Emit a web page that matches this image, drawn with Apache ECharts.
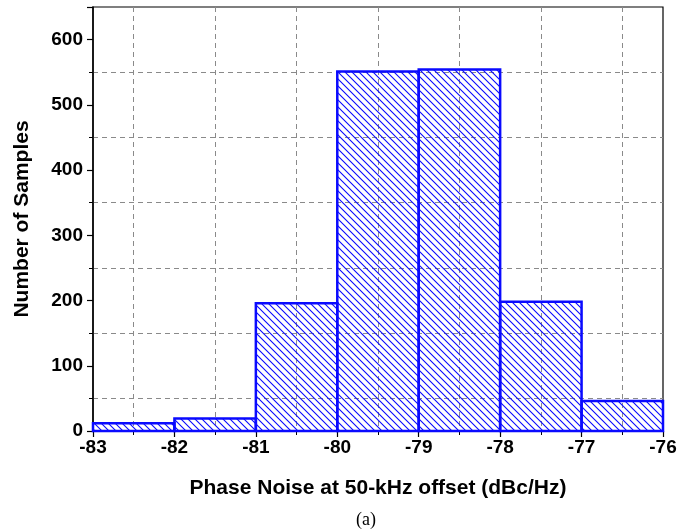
<!DOCTYPE html>
<html>
<head>
<meta charset="utf-8">
<script src="https://cdn.jsdelivr.net/npm/echarts@6/dist/echarts.min.js"></script>
<style>html,body{margin:0;padding:0;background:#fff}#c{width:693px;height:531px}</style>
</head>
<body>
<div id="c"></div>
<script>
// Data
const binStarts = [-83, -82, -81, -80, -79, -78, -77];
const binEnds   = [-82, -81, -80, -79, -78, -77, -76];
const counts    = [12, 19, 196, 551, 554, 198, 46];
const xTicks = [-83, -82, -81, -80, -79, -78, -77, -76];
const yTicks = [0, 100, 200, 300, 400, 500, 600];

const blue = '#0a0aff';
// hatch pattern
const T = 7;
const tile = document.createElement('canvas');
tile.width = T; tile.height = T;
const g = tile.getContext('2d');
g.strokeStyle = blue; g.lineWidth = 1.1;
g.beginPath();
g.moveTo(-1, -1); g.lineTo(T + 1, T + 1);
g.moveTo(T - 1, -1); g.lineTo(T + 1, 1);
g.moveTo(-1, T - 1); g.lineTo(1, T + 1);
g.stroke();

const data = binStarts.map((s, i) => [s, binEnds[i], counts[i]]);

const chart = echarts.init(document.getElementById('c'), null, {renderer: 'canvas'});
const font = '"Liberation Sans", Arial, sans-serif';
chart.setOption({
  animation: false,
  grid: {left: 93, right: 30, top: 7, bottom: 100, show: true, borderColor: '#000', borderWidth: 1.2},
  xAxis: {
    type: 'value', min: xTicks[0], max: xTicks[xTicks.length - 1], interval: 1,
    name: 'Phase Noise at 50-kHz offset (dBc/Hz)', nameLocation: 'middle', nameGap: 47,
    nameTextStyle: {fontFamily: font, fontWeight: 'bold', fontSize: 21, color: '#000'},
    axisLine: {show: true, onZero: false, lineStyle: {color: '#000', width: 1.5}},
    axisTick: {show: true, length: 6, lineStyle: {color: '#000', width: 1.2}},
    minorTick: {show: true, splitNumber: 2, length: 4, lineStyle: {color: '#000', width: 1}},
    axisLabel: {fontFamily: font, fontWeight: 'bold', fontSize: 19, color: '#000', margin: 7},
    splitLine: {show: false},
    minorSplitLine: {show: true, lineStyle: {color: '#8a8a8a', width: 1, type: [5, 4]}}
  },
  yAxis: {
    type: 'value', min: 0, max: 650, interval: 100,
    name: 'Number of Samples', nameLocation: 'middle', nameGap: 60,
    nameTextStyle: {fontFamily: font, fontWeight: 'bold', fontSize: 21, color: '#000'},
    axisLine: {show: true, onZero: false, lineStyle: {color: '#000', width: 1.5}},
    axisTick: {show: true, length: 6, lineStyle: {color: '#000', width: 1.2}},
    minorTick: {show: true, splitNumber: 2, length: 4, lineStyle: {color: '#000', width: 1}},
    axisLabel: {fontFamily: font, fontWeight: 'bold', fontSize: 19, color: '#000', margin: 10, showMaxLabel: false},
    splitLine: {show: false},
    minorSplitLine: {show: true, lineStyle: {color: '#8a8a8a', width: 1, type: [5, 4]}}
  },
  graphic: [{
    type: 'text', x: 366, y: 520,
    style: {text: '(a)', font: '18px "Liberation Serif", "Times New Roman", serif', fill: '#000', align: 'center', verticalAlign: 'middle'}
  }],
  series: [{
    type: 'custom',
    data: data,
    encode: {x: [0, 1], y: 2},
    renderItem: function (params, api) {
      const p0 = api.coord([api.value(0), 0]);
      const p1 = api.coord([api.value(1), api.value(2)]);
      return {
        type: 'rect',
        shape: {x: p0[0], y: p1[1], width: p1[0] - p0[0], height: p0[1] - p1[1]},
        style: {fill: {image: tile, repeat: 'repeat'}, stroke: blue, lineWidth: 2.5}
      };
    }
  }]
});
</script>
</body>
</html>
